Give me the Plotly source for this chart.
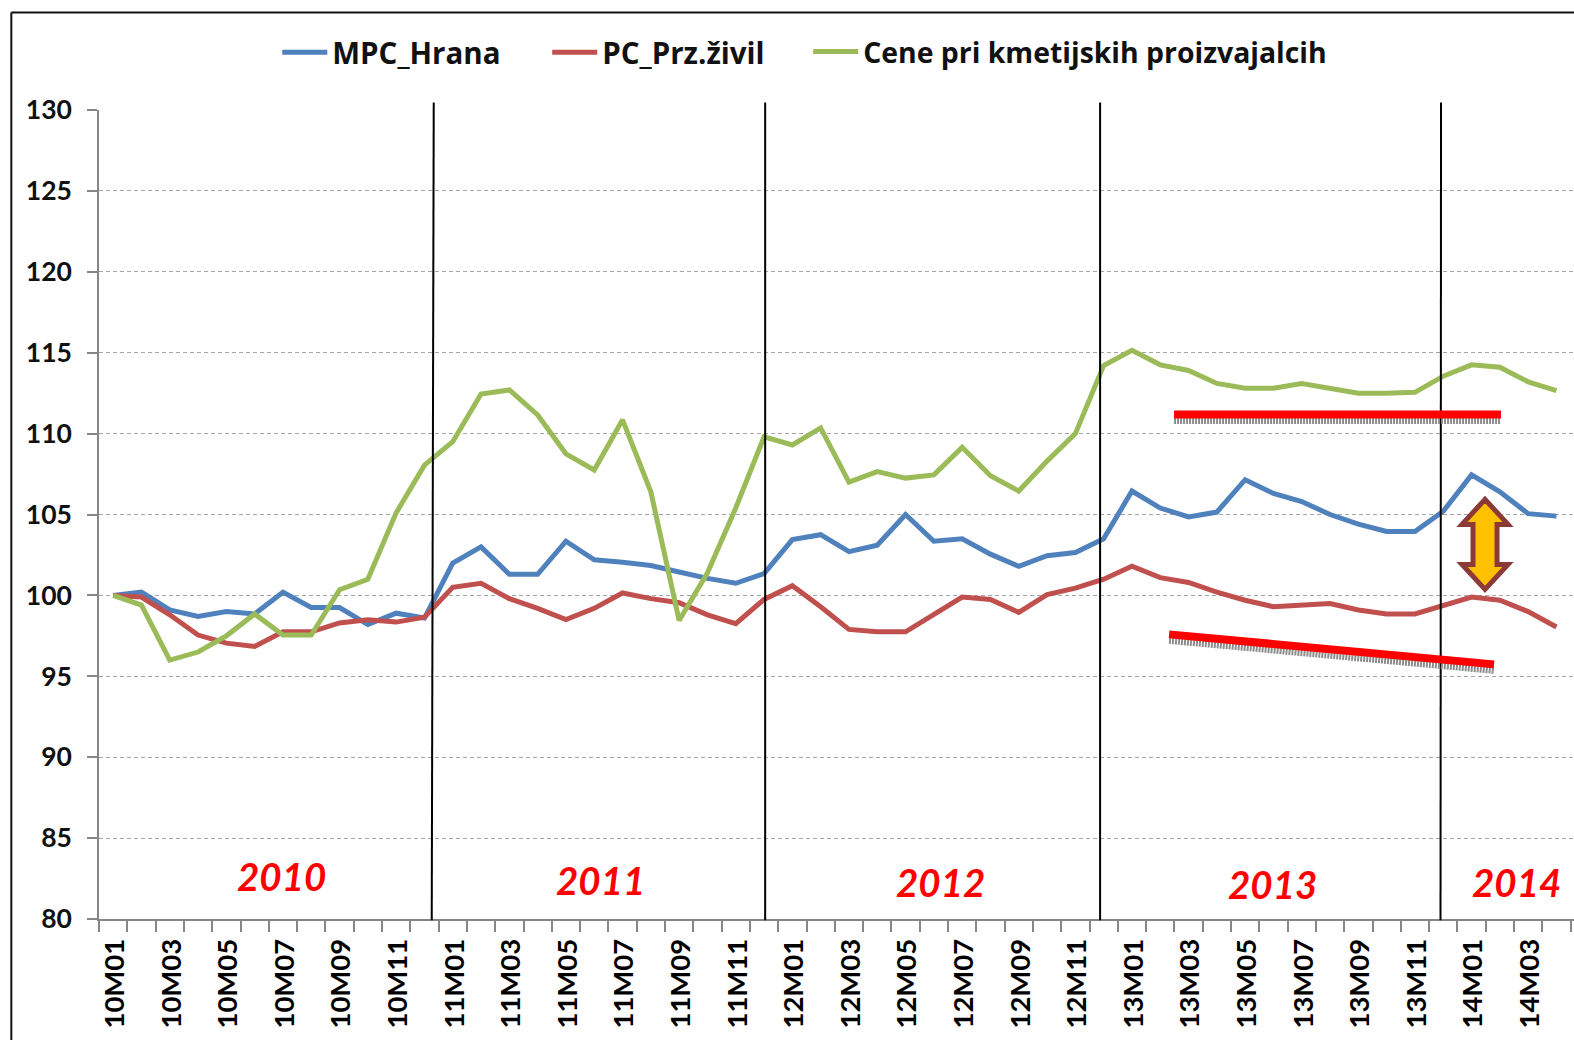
import plotly.graph_objects as go

W, H = 1574, 1040
L, R, T, B = 98.7, 1574, 109.5, 918.7
FONT = "Lato, Carlito, Arial, sans-serif"
LEGEND_FONT = "Open Sans, Lato, sans-serif"

years = ["10", "11", "12", "13"]
months = [f"M{m:02d}" for m in range(1, 13)]
categories = [y + m for y in years for m in months] + ["14M01", "14M02", "14M03", "14M04"]
tick_labels = [c if i % 2 == 0 else "" for i, c in enumerate(categories)]
y_ticks = [80, 85, 90, 95, 100, 105, 110, 115, 120, 125, 130]

mpc_hrana = [100, 100.2, 99.1, 98.7, 99.0, 98.85, 100.2, 99.25, 99.25, 98.2, 98.9, 98.6,
             102.0, 103.0, 101.3, 101.3, 103.35, 102.2, 102.05, 101.85, 101.45, 101.05, 100.75, 101.35,
             103.45, 103.75, 102.7, 103.1, 105.0, 103.35, 103.5, 102.55, 101.8, 102.45, 102.65, 103.5,
             106.45, 105.4, 104.85, 105.15, 107.15, 106.3, 105.8, 105.0, 104.4, 103.95, 103.95, 105.2,
             107.45, 106.4, 105.05, 104.9]
pc_prz_zivil = [100, 99.9, 98.8, 97.55, 97.05, 96.85, 97.75, 97.75, 98.3, 98.5, 98.35, 98.65,
                100.5, 100.75, 99.8, 99.2, 98.5, 99.2, 100.15, 99.8, 99.55, 98.8, 98.25, 99.75,
                100.6, 99.3, 97.9, 97.75, 97.75, 98.8, 99.9, 99.75, 98.95, 100.05, 100.45, 101.0,
                101.8, 101.1, 100.8, 100.2, 99.7, 99.3, 99.4, 99.5, 99.1, 98.85, 98.85, 99.4,
                99.9, 99.7, 99.0, 98.05]
cene_kmet = [100, 99.4, 96.0, 96.5, 97.5, 98.85, 97.55, 97.55, 100.35, 101.0, 105.1, 108.05,
             109.5, 112.45, 112.7, 111.15, 108.75, 107.75, 110.85, 106.4, 98.45, 101.4, 105.4, 109.8,
             109.3, 110.35, 107.0, 107.65, 107.25, 107.45, 109.15, 107.4, 106.45, 108.3, 110.0, 114.2,
             115.15, 114.25, 113.9, 113.1, 112.8, 112.8, 113.1, 112.8, 112.5, 112.5, 112.55, 113.55,
             114.25, 114.1, 113.2, 112.65]

series = [("MPC_Hrana", mpc_hrana, "#4F81BD", "legend", 277, 29.5),
          ("PC_Prz.živil", pc_prz_zivil, "#C0504D", "legend2", 547, 29.5),
          ("Cene pri kmetijskih proizvajalcih", cene_kmet, "#9BBB59", "legend3", 808, 28.4)]

year_labels = ["2010", "2011", "2012", "2013", "2014"]
year_px = [(281, 876), (600, 880), (940, 882), (1272, 884), (1516, 882)]
dividers_px = [(433.5, 431.5), (765, 765), (1100, 1100), (1441, 1440.5)]


def px(x):
    return (x - L) / (R - L)


def py(y):
    return (B - y) / (B - T)


fig = go.Figure()
for name, vals, col, leg, _, _ in series:
    fig.add_trace(go.Scatter(x=categories, y=vals, mode="lines", name=name, legend=leg, showlegend=True,
                             line=dict(color=col, width=5, shape="linear")))

shapes = []


def seg(x0, y0, x1, y1, **line):
    shapes.append(dict(type="line", xref="paper", yref="paper", x0=px(x0), y0=py(y0),
                       x1=px(x1), y1=py(y1), line=line))


# frame
seg(11, 12, 1574, 12, color="#111111", width=2)
seg(11, 12, 11, 1040, color="#111111", width=2)
# year dividers
for x_top, x_bot in dividers_px:
    seg(x_top, 102, x_bot, 920, color="#000000", width=2)
# trend line shadows and trend lines
seg(1174, 420, 1501, 420, color="#8c8c8c", width=7, dash="2px,1px")
seg(1169, 640, 1494, 670, color="#8c8c8c", width=7, dash="2px,1px")
seg(1174, 414, 1501, 414, color="#FF0000", width=8)
seg(1169, 634, 1494, 664, color="#FF0000", width=8)

# double arrow
cx = 1485
top, bot = 499, 589
hw, hh, sw = 23, 25, 12
pts = [(cx, top), (cx + hw, top + hh), (cx + sw, top + hh), (cx + sw, bot - hh), (cx + hw, bot - hh),
       (cx, bot), (cx - hw, bot - hh), (cx - sw, bot - hh), (cx - sw, top + hh), (cx - hw, top + hh)]
path = "M " + " L ".join(f"{px(a):.5f},{py(b):.5f}" for a, b in pts) + " Z"
shapes.append(dict(type="path", xref="paper", yref="paper", path=path,
                   fillcolor="#FFC000", line=dict(color="#8C3A38", width=5)))

annotations = [dict(text=t, xref="paper", yref="paper", x=px(a), y=py(b), showarrow=False,
                    xanchor="center", yanchor="middle",
                    font=dict(family=FONT, size=38.5, color="#FF0000", weight="bold", style="italic"))
               for t, (a, b) in zip(year_labels, year_px)]


def legend_at(x, size):
    return dict(orientation="h", x=px(x), y=py(26), xanchor="left", yanchor="top", itemwidth=45,
                font=dict(family=LEGEND_FONT, size=size, color="#111111", weight="bold"),
                bgcolor="rgba(0,0,0,0)", visible=True)


fig.update_layout(
    width=W, height=H, showlegend=True,
    margin=dict(l=L, r=W - R, t=T, b=H - B, pad=0, autoexpand=False),
    paper_bgcolor="white", plot_bgcolor="white",
    font=dict(family=FONT, size=26, color="#000000", weight="bold"),
    shapes=shapes, annotations=annotations,
    legend=legend_at(series[0][4], series[0][5]),
    legend2=legend_at(series[1][4], series[1][5]),
    legend3=legend_at(series[2][4], series[2][5]),
    xaxis=dict(type="category", categoryorder="array", categoryarray=categories,
               tickmode="array", tickvals=categories, ticktext=tick_labels, tickson="boundaries",
               range=[-0.5, 51.62], tickangle=-90, ticks="outside", ticklen=11,
               tickcolor="#868686", tickwidth=1.5, showline=True, linecolor="#868686", linewidth=1.5,
               showgrid=False, zeroline=False, ticklabelstandoff=7, ticklabelshift=2,
               tickfont=dict(family=FONT, size=27.5, color="#000000", weight="bold")),
    yaxis=dict(range=[80, 130], tickmode="array", tickvals=y_ticks, ticks="outside", ticklen=10,
               tickcolor="#868686", tickwidth=1.5, showline=True, linecolor="#868686", linewidth=1.5,
               showgrid=True, gridcolor="#a6a6a6", gridwidth=1, griddash="4px,3px", zeroline=False,
               ticklabelstandoff=10,
               tickfont=dict(family=FONT, size=26.5, color="#111111", weight="bold")),
)

fig.write_html("out.html", config={"displayModeBar": False},
               post_script="document.body.style.margin='0';document.body.style.overflow='hidden';")
